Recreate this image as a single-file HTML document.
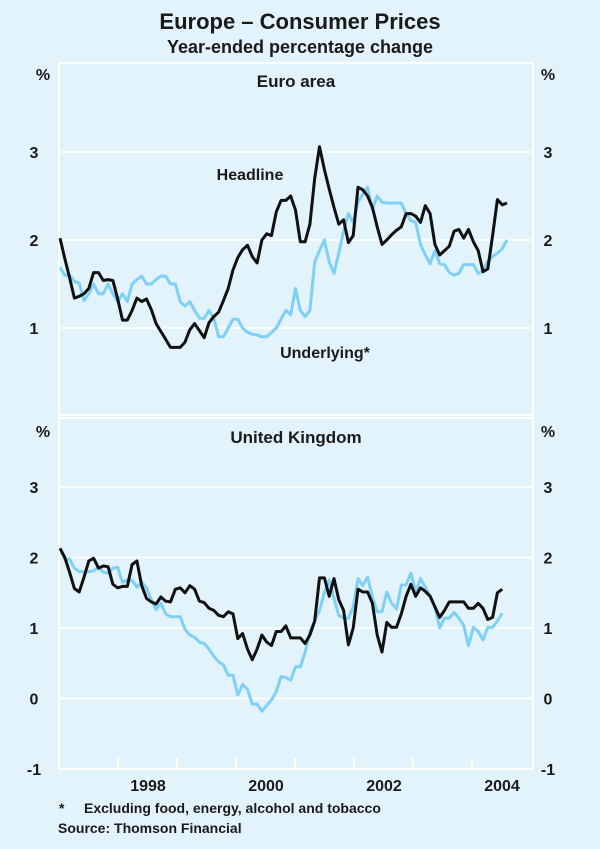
<!DOCTYPE html>
<html><head><meta charset="utf-8"><style>
body{margin:0;background:#e3f3fb;}
svg{display:block;font-family:"Liberation Sans",Arial,sans-serif;}
</style></head><body>
<svg id="chart" width="600" height="849" viewBox="0 0 600 849">
<rect width="600" height="849" fill="#e3f3fb"/>
<text x="300" y="29" text-anchor="middle" font-size="22" font-weight="bold" fill="#1a1a1a">Europe – Consumer Prices</text>
<text x="300" y="53" text-anchor="middle" font-size="18" font-weight="bold" fill="#1a1a1a">Year-ended percentage change</text>
<text x="296" y="87" text-anchor="middle" font-size="17" font-weight="bold" fill="#1a1a1a">Euro area</text>
<text x="296" y="443" text-anchor="middle" font-size="17" font-weight="bold" fill="#1a1a1a">United Kingdom</text>
<text x="250" y="180" text-anchor="middle" font-size="16" font-weight="bold" fill="#1a1a1a">Headline</text>
<text x="325" y="358" text-anchor="middle" font-size="16" font-weight="bold" fill="#1a1a1a">Underlying*</text>
<text x="59" y="813" font-size="14" font-weight="bold" fill="#1a1a1a">*<tspan x="84">Excluding food, energy, alcohol and tobacco</tspan></text>
<text x="58" y="833" font-size="14" font-weight="bold" fill="#1a1a1a">Source: Thomson Financial</text>
<g id="grid"></g>
<g id="lines"></g>
<g id="labels"></g>
</svg>
<script>
const years = ["1998","2000","2002","2004"];
const euroTicks = [1,2,3];
const ukTicks = [-1,0,1,2,3];
const euroHeadline = [2.02,1.79,1.57,1.34,1.36,1.39,1.45,1.63,1.63,1.54,1.55,1.54,1.33,1.09,1.09,1.2,1.34,1.3,1.33,1.21,1.05,0.96,0.87,0.78,0.78,0.78,0.84,0.98,1.05,0.97,0.89,1.06,1.13,1.18,1.31,1.45,1.66,1.8,1.89,1.94,1.81,1.74,2.0,2.07,2.05,2.32,2.45,2.45,2.5,2.34,1.98,1.98,2.18,2.7,3.06,2.8,2.58,2.37,2.18,2.23,1.97,2.05,2.6,2.57,2.5,2.37,2.15,1.95,2.0,2.06,2.11,2.15,2.3,2.3,2.27,2.2,2.39,2.3,1.95,1.83,1.88,1.93,2.1,2.12,2.02,2.12,1.98,1.88,1.64,1.67,2.05,2.46,2.4,2.42];
const euroUnderlying = [1.69,1.6,1.6,1.53,1.51,1.31,1.39,1.5,1.39,1.39,1.5,1.39,1.3,1.39,1.3,1.5,1.55,1.59,1.5,1.5,1.55,1.59,1.59,1.5,1.5,1.3,1.25,1.3,1.2,1.11,1.11,1.2,1.11,0.9,0.9,1.0,1.1,1.1,1.0,0.95,0.93,0.92,0.9,0.9,0.95,1.0,1.1,1.2,1.15,1.45,1.2,1.13,1.2,1.75,1.88,2.0,1.75,1.62,1.85,2.1,2.3,2.2,2.43,2.52,2.6,2.35,2.5,2.43,2.42,2.42,2.42,2.42,2.3,2.22,2.2,1.95,1.83,1.73,1.88,1.73,1.72,1.63,1.6,1.62,1.72,1.72,1.72,1.62,1.65,1.76,1.81,1.85,1.9,2.0];
const ukHeadline = [2.13,2.0,1.79,1.56,1.51,1.72,1.95,1.99,1.85,1.88,1.87,1.62,1.57,1.59,1.59,1.9,1.95,1.6,1.42,1.37,1.34,1.44,1.38,1.37,1.55,1.57,1.5,1.6,1.55,1.38,1.36,1.28,1.25,1.18,1.16,1.23,1.2,0.85,0.92,0.7,0.55,0.7,0.9,0.8,0.75,0.95,0.95,1.03,0.86,0.86,0.86,0.78,0.9,1.1,1.71,1.71,1.45,1.7,1.4,1.25,0.76,1.0,1.55,1.51,1.51,1.35,0.9,0.66,1.08,1.01,1.01,1.2,1.45,1.62,1.45,1.57,1.52,1.45,1.3,1.15,1.25,1.37,1.37,1.37,1.37,1.28,1.28,1.35,1.28,1.12,1.15,1.5,1.55];
const ukUnderlying = [2.13,1.97,1.98,1.85,1.8,1.8,1.8,1.81,1.86,1.79,1.78,1.85,1.86,1.65,1.68,1.68,1.58,1.65,1.57,1.4,1.26,1.35,1.2,1.16,1.16,1.16,0.98,0.9,0.87,0.8,0.78,0.7,0.6,0.52,0.48,0.33,0.33,0.05,0.2,0.13,-0.08,-0.08,-0.18,-0.1,-0.02,0.1,0.31,0.3,0.26,0.45,0.45,0.65,0.95,1.1,1.25,1.5,1.68,1.42,1.18,1.14,1.14,1.3,1.7,1.6,1.72,1.44,1.23,1.23,1.51,1.35,1.27,1.61,1.61,1.78,1.51,1.7,1.58,1.45,1.3,1.0,1.14,1.14,1.22,1.14,1.04,0.75,1.01,0.95,0.83,1.01,1.01,1.1,1.21];

const NS='http://www.w3.org/2000/svg';
const L=59,R=533,T=63,M=415,B=769;
const xStep=(507-60)/93;
function xM(i){return 60+i*xStep;}
function yEuro(v){return 416-v*88;}
function yUK(v){return 698.5-v*70.5;}
function mk(tag,attrs,parent){const e=document.createElementNS(NS,tag);for(const k in attrs)e.setAttribute(k,attrs[k]);parent.appendChild(e);return e;}
const grid=document.getElementById('grid'),lines=document.getElementById('lines'),labels=document.getElementById('labels');

euroTicks.forEach(v=>{
  const g=mk('line',{x1:L,x2:R,y1:yEuro(v),y2:yEuro(v),stroke:'#fff','stroke-width':1.5},grid);
  
  
  [34,548].forEach((x,j)=>{const t=mk('text',{x:x,y:yEuro(v)+6,'text-anchor':'middle','font-size':16,'font-weight':'bold',fill:'#1a1a1a'},labels);t.textContent=v;
  
  });
});
ukTicks.forEach(v=>{
  if(v>-1){const g=mk('line',{x1:L,x2:R,y1:yUK(v),y2:yUK(v),stroke:'#fff','stroke-width':1.5},grid);
  
  }
  [34,548].forEach((x,j)=>{const t=mk('text',{x:x,y:yUK(v)+6,'text-anchor':'middle','font-size':16,'font-weight':'bold',fill:'#1a1a1a'},labels);t.textContent=v;
  
  });
});
[[43,'left'],[548,'right']].forEach(([x,s])=>{[80,437].forEach((y,k)=>{const t=mk('text',{x:x,y:y,'text-anchor':'middle','font-size':16,'font-weight':'bold',fill:'#1a1a1a'},labels);t.textContent='%';
  
  });});

const fr=mk('path',{d:`M${L},${B}V${T}H${R}V${B}H${L}M${L},${M}H${R}M${L},${M+3}H${R}`,fill:'none',stroke:'#fff','stroke-width':2},grid);


for(let k=1;k<8;k++){
  const x=L+k*59;
  const t=mk('line',{x1:x,x2:x,y1:B,y2:B-11,stroke:'#fff','stroke-width':2},grid);
  
  
}
years.forEach((y,k)=>{const t=mk('text',{x:148+k*118,y:791,'text-anchor':'middle','font-size':16,'font-weight':'bold',fill:'#1a1a1a'},labels);t.textContent=y;
  
  });

function series(arr,yf,color,name){
  const d=arr.map((v,i)=>(i?'L':'M')+xM(i).toFixed(1)+','+yf(v).toFixed(1)).join('');
  const p=mk('path',{d:d,fill:'none',stroke:color,'stroke-width':3,'stroke-linejoin':'round'},lines);
  
  
}
series(euroUnderlying,yEuro,'#7fd0f5','euro-underlying-line');
series(euroHeadline,yEuro,'#111','euro-headline-line');
series(ukUnderlying,yUK,'#7fd0f5','uk-underlying-line');
series(ukHeadline,yUK,'#111','uk-headline-line');
</script>
</body></html>
